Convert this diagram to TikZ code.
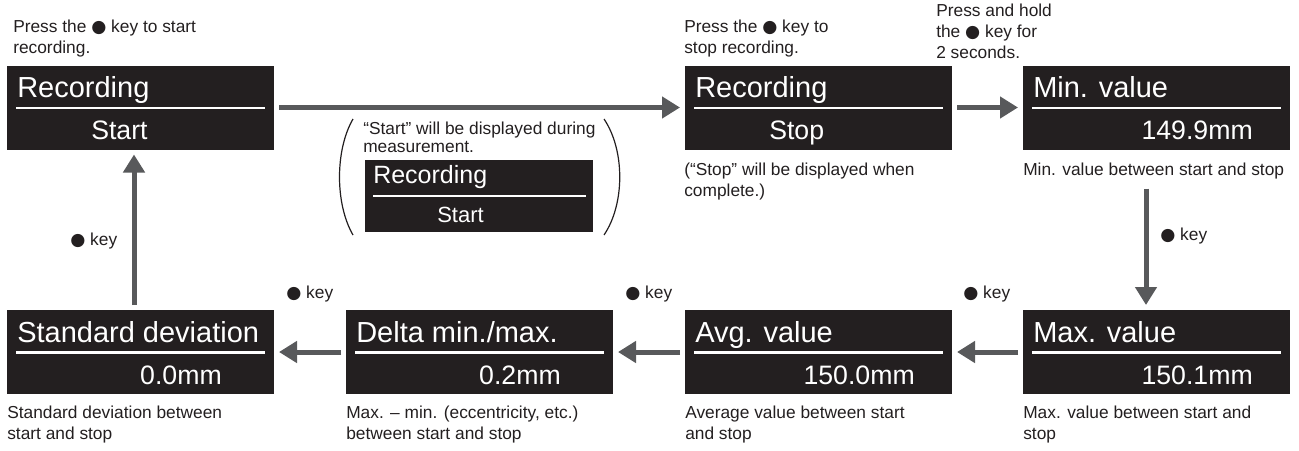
\documentclass[tikz,border=0pt]{standalone}
\usepackage{fontspec}
\setmainfont{Liberation Sans}
\newfontfamily\dotfont{DejaVu Sans}
\newcommand\keydot{{\dotfont ●}}
\usetikzlibrary{arrows.meta,positioning,calc}
\definecolor{ink}{HTML}{231F20}
\definecolor{arrowgray}{HTML}{58595B}
\tikzset{screen/.style={fill=ink,minimum width=200.25pt,minimum height=63pt,inner sep=0pt,outer sep=3.75pt},
  smallscreen/.style={screen,minimum width=171pt,minimum height=54pt,outer sep=0pt},
  title/.style={text=white,anchor=base west,inner sep=0pt,font=\fontsize{21.75pt}{26pt}\selectfont},
  reading/.style={text=white,anchor=base west,inner sep=0pt,font=\fontsize{20pt}{23pt}\selectfont},
  smalltitle/.style={title,font=\fontsize{18.75pt}{22pt}\selectfont},
  smallreading/.style={reading,font=\fontsize{16.5pt}{20pt}\selectfont},
  caption/.style={text=ink,anchor=base west,inner sep=0pt,align=left,font=\fontsize{13pt}{15.75pt}\selectfont},
  note/.style={caption,font=\fontsize{13pt}{13pt}\selectfont},
  rule/.style={draw=white,line width=1.8pt},
  flow/.style={-{Triangle[length=13.5pt,width=15.75pt]},line width=3.75pt,draw=arrowgray},
  paren/.style={draw=ink,line width=0.9pt}}

\begin{document}
\begin{tikzpicture}[x=0.75pt,y=-0.75pt]
\useasboundingbox (0,0) rectangle (1299,450);
% screens
\node[screen] (recstart) at (140.5,107.5) {};
\node[screen] (recstop) at (818.5,107.5) {};
\node[screen] (minval) at (1156.5,107.5) {};
\node[screen] (stdev) at (140.5,352) {};
\node[screen] (delta) at (479.5,352) {};
\node[screen] (avgval) at (818.5,352) {};
\node[screen] (maxval) at (1156.5,352) {};
\node[smallscreen] (recrun) at (479,196) {};
\foreach \s/\t in {recstart/Recording,recstop/Recording,minval/{Min. value},stdev/{Standard deviation},
    delta/{Delta min./max.},avgval/{Avg. value},maxval/{Max. value}}{
  \node[title] at ($(\s)+(-123.5,-10)$) {\t};
  \draw[rule] ($(\s)+(-124.5,0.5)$) -- ($(\s)+(124.5,0.5)$);
}
\node[reading] at ($(recstart)+(-49.5,32)$) {Start};
\node[reading] at ($(recstop)+(-49.5,32)$) {Stop};
\node[reading,anchor=base east] at ($(minval)+(96.5,32)$) {149.9mm};
\node[reading,anchor=base east] at ($(stdev)+(81.5,32)$) {0.0mm};
\node[reading,anchor=base east] at ($(delta)+(81.5,32)$) {0.2mm};
\node[reading,anchor=base east] at ($(avgval)+(96.5,32)$) {150.0mm};
\node[reading,anchor=base east] at ($(maxval)+(96.5,32)$) {150.1mm};
\node[smalltitle] at ($(recrun)+(-106,-13)$) {Recording};
\draw[rule] ($(recrun)+(-106,0)$) -- ($(recrun)+(107,0)$);
\node[smallreading] at ($(recrun)+(-42,26)$) {Start};
% brackets round the running screen
\draw[paren] (353,119) .. controls (335,150) and (335,204) .. (353,235);
\draw[paren] (604,119) .. controls (625,150) and (625,204) .. (604,235);
% texts (base = last line)
\node[caption] (capstart) at (13,53) {Press the \keydot\ key to start\\recording.};
\node[caption] (capstop) at (684,53) {Press the \keydot\ key to\\stop recording.};
\node[caption] (caphold) at (936,58.5) {Press and hold\\the \keydot\ key for\\2 seconds.};
\node[note] (noterun) at (363,152) {“Start” will be displayed during\\measurement.};
\node[caption] (notestop) at (684,196) {(“Stop” will be displayed when\\complete.)};
\node[caption] (capmin) at (1023,175) {Min. value between start and stop};
\node[caption] (capstdev) at (7,439) {Standard deviation between\\start and stop};
\node[caption] (capdelta) at (346,439) {Max. – min. (eccentricity, etc.)\\between start and stop};
\node[caption] (capavg) at (685,439) {Average value between start\\and stop};
\node[caption] (capmax) at (1023,439) {Max. value between start and\\stop};
\node[caption] (keyup) at (70,245) {\keydot\ key};
\node[caption] (keydown) at (1160,240) {\keydot\ key};
\node[caption] (keydelta) at (286,298) {\keydot\ key};
\node[caption] (keyavg) at (625,298) {\keydot\ key};
\node[caption] (keymax) at (963,298) {\keydot\ key};
% arrows
\draw[flow] (recstart) -- (recstop);
\draw[flow] (recstop) -- (minval);
\draw[flow] ($(minval.south)+(-10.5,34)$) -- ($(maxval.north)+(-10.5,0)$);
\draw[flow] (maxval) -- (avgval);
\draw[flow] (avgval) -- (delta);
\draw[flow] (delta) -- (stdev);
\draw[flow] ($(stdev.north)+(-6.5,0)$) -- ($(recstart.south)+(-6.5,0)$);
\end{tikzpicture}
\end{document}
